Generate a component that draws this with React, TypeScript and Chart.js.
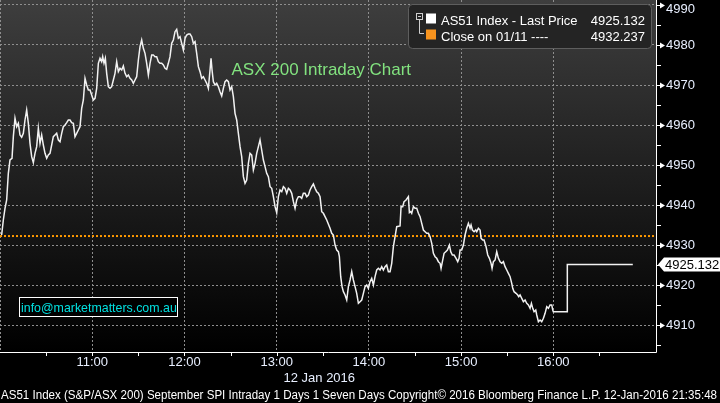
import React, { useEffect, useRef } from 'react';
import { Chart, registerables } from 'chart.js';

Chart.register(...registerables);

// minutes after 10:00 on 12 Jan 2016
const minutesFromOpen = [
  1.08, 2.17, 3.25, 4.34, 5.42, 6.51, 7.81, 8.68, 9.76, 10.85, 11.93, 13.01, 14.1, 15.18, 16.27, 17.35, 18.44, 19.52,
  20.61, 21.69, 22.77, 23.86, 24.94, 26.03, 27.11, 28.2, 29.28, 30.37, 31.45, 32.54, 33.62, 34.7, 35.79, 36.87, 37.96,
  39.04, 40.13, 41.21, 42.3, 43.38, 44.46, 45.55, 46.63, 47.72, 48.8, 49.89, 50.97, 52.06, 53.14, 54.23, 55.31, 56.39,
  57.48, 58.56, 59.65, 60.73, 61.82, 62.9, 63.99, 65.07, 66.15, 66.81, 67.67, 68.54, 69.41, 70.49, 71.58, 72.66, 73.75,
  74.83, 75.92, 77.0, 78.08, 79.17, 80.25, 81.34, 82.42, 83.51, 84.59, 85.68, 86.76, 87.84, 88.93, 90.01, 91.1, 92.18,
  93.27, 94.35, 95.44, 96.52, 97.61, 98.69, 99.77, 100.86, 101.94, 103.03, 104.11, 105.2, 106.28, 107.37, 108.45,
  109.53, 110.62, 111.7, 112.79, 113.87, 114.96, 116.04, 117.13, 118.21, 119.3, 120.38, 121.46, 122.55, 123.63, 124.72,
  125.8, 126.89, 127.97, 129.06, 130.14, 131.22, 132.31, 133.39, 134.48, 135.56, 136.65, 137.3, 137.95, 138.82, 139.9,
  140.99, 142.07, 143.15, 144.24, 145.32, 146.41, 147.49, 148.58, 149.66, 150.75, 151.83, 152.91, 154.0, 155.08, 156.17,
  157.25, 158.34, 159.42, 160.51, 161.59, 162.68, 163.76, 164.84, 165.93, 167.01, 168.1, 169.18, 170.27, 171.36, 172.44,
  173.52, 174.61, 175.69, 176.78, 177.86, 178.95, 180.03, 181.12, 182.2, 183.29, 184.37, 185.45, 186.54, 187.62, 188.71,
  189.79, 190.88, 191.96, 193.05, 194.13, 195.21, 196.3, 197.38, 198.47, 199.55, 200.64, 201.72, 202.81, 203.89, 204.97,
  206.06, 207.14, 208.23, 209.31, 210.4, 211.48, 212.57, 214.73, 215.81, 216.9, 217.98, 219.07, 220.15, 220.8, 221.67,
  222.54, 223.41, 224.49, 225.58, 226.66, 227.74, 228.83, 229.91, 231.0, 232.08, 233.17, 234.25, 235.34, 236.42, 237.5,
  238.59, 239.67, 240.76, 241.84, 242.93, 244.01, 245.1, 246.18, 247.27, 248.35, 249.43, 250.52, 251.6, 252.69, 253.77,
  254.86, 255.94, 257.03, 258.11, 260.28, 260.93, 262.01, 262.88, 264.18, 265.7, 266.35, 267.22, 267.87, 268.96, 270.04,
  271.13, 272.21, 273.3, 274.38, 275.46, 276.55, 277.63, 278.72, 279.8, 280.89, 281.97, 283.06, 284.14, 285.22, 286.31,
  286.96, 287.83, 288.91, 290.0, 291.08, 292.38, 293.25, 294.33, 295.42, 296.72, 297.8, 298.67, 299.32, 300.4, 301.49,
  302.57, 303.66, 304.74, 305.83, 306.48, 307.34, 308.43, 309.51, 310.17, 311.25, 312.34, 312.99, 314.07, 314.94, 316.24,
  317.33, 318.41, 319.5, 320.15, 321.01, 322.1, 323.18, 324.27, 325.35, 326.44, 327.52, 328.6, 329.69, 330.77, 331.86,
  332.94, 333.59, 334.46, 335.76, 336.84, 337.5, 338.36, 339.45, 340.53, 341.62, 342.7, 343.79, 344.87, 345.74, 346.61,
  347.47, 348.56, 349.21, 350.29, 351.38, 352.46, 353.55, 354.63, 355.72, 356.8, 357.89, 358.97, 359.62, 360.0, 369.1,
  369.1, 411.7,
];

const prices = [
  4932.5, 4936.25, 4939.17, 4941.25, 4947.92, 4951.25, 4951.67, 4957.08, 4961.67, 4959.58, 4960.42, 4957.5, 4956.92,
  4957.92, 4961.25, 4963.75, 4960.42, 4955.42, 4952.08, 4950.58, 4952.92, 4954.58, 4959.17, 4955.42, 4957.5, 4955.0,
  4952.92, 4951.67, 4952.5, 4952.92, 4955.0, 4957.08, 4957.5, 4957.92, 4956.25, 4955.83, 4957.92, 4959.58, 4960.0,
  4960.58, 4961.25, 4961.25, 4960.58, 4960.42, 4957.08, 4957.92, 4958.75, 4959.58, 4964.17, 4966.25, 4971.67, 4970.0,
  4968.75, 4968.75, 4967.5, 4966.25, 4966.67, 4969.17, 4975.42, 4976.67, 4975.83, 4977.08, 4975.42, 4976.67, 4972.92,
  4969.58, 4969.17, 4969.58, 4971.25, 4972.92, 4975.83, 4973.33, 4974.17, 4973.75, 4974.75, 4972.92, 4972.08, 4972.5,
  4971.67, 4971.25, 4970.42, 4971.25, 4972.08, 4976.25, 4979.58, 4981.25, 4979.17, 4977.92, 4975.42, 4972.5, 4975.42,
  4977.5, 4977.5, 4977.08, 4977.08, 4975.83, 4975.42, 4975.42, 4975.0, 4974.17, 4973.92, 4975.42, 4977.08, 4980.42,
  4981.25, 4983.33, 4983.92, 4981.67, 4982.08, 4980.42, 4978.75, 4981.67, 4982.5, 4982.75, 4982.75, 4982.08, 4980.42,
  4980.83, 4977.92, 4974.58, 4973.33, 4971.67, 4972.08, 4971.25, 4970.42, 4969.17, 4973.75, 4976.67, 4973.75, 4970.83,
  4970.0, 4970.42, 4969.58, 4968.33, 4967.25, 4969.17, 4970.83, 4971.25, 4970.83, 4968.75, 4969.58, 4967.08, 4962.92,
  4961.25, 4957.92, 4954.58, 4952.08, 4947.08, 4945.42, 4946.25, 4950.42, 4952.92, 4952.5, 4948.75, 4950.42, 4952.92,
  4954.58, 4956.25, 4953.75, 4951.25, 4949.58, 4947.92, 4947.08, 4944.58, 4944.17, 4942.08, 4939.58, 4938.08, 4942.08,
  4943.75, 4943.33, 4944.58, 4944.17, 4942.92, 4944.17, 4943.75, 4942.92, 4940.83, 4939.17, 4941.25, 4942.08, 4942.08,
  4941.67, 4942.92, 4942.92, 4942.08, 4942.5, 4943.75, 4944.58, 4945.25, 4944.17, 4943.33, 4942.92, 4942.08, 4938.33,
  4937.92, 4937.08, 4936.25, 4934.17, 4932.92, 4932.5, 4930.0, 4928.75, 4928.33, 4927.08, 4922.08, 4919.58, 4918.33,
  4917.5, 4916.25, 4919.58, 4921.25, 4923.33, 4921.25, 4919.58, 4917.92, 4915.42, 4915.83, 4916.25, 4917.92, 4919.58,
  4920.0, 4919.17, 4920.83, 4921.67, 4920.0, 4922.08, 4923.75, 4924.17, 4923.75, 4924.58, 4923.75, 4924.58, 4925.0,
  4923.33, 4923.33, 4925.42, 4929.58, 4932.08, 4934.58, 4934.75, 4939.58, 4939.58, 4940.83, 4941.25, 4942.08, 4938.08,
  4938.33, 4937.92, 4939.58, 4939.17, 4939.17, 4937.92, 4937.08, 4935.42, 4933.75, 4933.33, 4932.92, 4932.92, 4932.08,
  4930.42, 4927.92, 4927.08, 4926.67, 4925.83, 4925.42, 4924.17, 4925.83, 4927.92, 4928.33, 4928.75, 4930.0, 4928.33,
  4927.5, 4927.5, 4926.67, 4925.83, 4926.67, 4928.75, 4928.75, 4930.0, 4932.5, 4934.17, 4935.42, 4934.17, 4935.0,
  4933.75, 4933.33, 4933.75, 4933.33, 4934.17, 4933.75, 4931.67, 4931.25, 4931.25, 4929.58, 4927.5, 4926.67, 4925.42,
  4924.17, 4925.83, 4926.25, 4928.33, 4926.67, 4925.83, 4925.42, 4925.83, 4924.58, 4923.75, 4922.92, 4922.08, 4920.42,
  4919.17, 4918.33, 4917.92, 4917.5, 4917.08, 4917.5, 4916.67, 4915.83, 4916.25, 4915.42, 4915.0, 4914.17, 4915.42,
  4914.17, 4913.33, 4913.75, 4912.5, 4910.83, 4911.25, 4910.83, 4911.67, 4912.92, 4914.58, 4914.17, 4915.0, 4915.0,
  4913.75, 4913.33, 4913.33, 4925.132, 4925.132,
];

const prevCloseValue = 4932.237;
const lastPriceValue = 4925.132;
const hourTickLabels = ['10:00', '11:00', '12:00', '13:00', '14:00', '15:00', '16:00', '17:00'];

const titleText = 'ASX 200 Intraday Chart';
const legendRows = [
  { label: 'AS51 Index - Last Price', value: '4925.132', color: '#ffffff' },
  { label: 'Close on 01/11 ----', value: '4932.237', color: '#f7931e' },
];
const dateText = '12 Jan 2016';
const contactText = 'info@marketmatters.com.au';
const footerText =
  'AS51 Index (S&P/ASX 200) September SPI Intraday 1 Days 1 Seven Days Copyright\u00a9 2016 Bloomberg Finance L.P. 12-Jan-2016 21:35:48';

const FONT = "'Liberation Sans', Arial, sans-serif";
const LABEL_COLOR = '#e8efff';
const GRID_COLOR = '#8e8e8e';

const decorPlugin = {
  id: 'decor',
  beforeDraw(chart: any) {
    const { ctx, chartArea: a, width, height } = chart;
    ctx.save();
    ctx.fillStyle = '#000';
    ctx.fillRect(0, 0, width, height);
    const g = ctx.createLinearGradient(0, a.top, 0, a.bottom);
    g.addColorStop(0, '#3e3e3e');
    g.addColorStop(1, '#000000');
    ctx.fillStyle = g;
    ctx.fillRect(a.left, a.top, a.right - a.left, a.bottom - a.top);
    ctx.restore();
  },
  afterDraw(chart: any) {
    const { ctx, chartArea: a } = chart;
    const xs = chart.scales.x;
    const ys = chart.scales.y;
    ctx.save();

    // axis lines
    ctx.strokeStyle = '#ffffff';
    ctx.lineWidth = 1;
    ctx.beginPath();
    ctx.moveTo(a.left, a.bottom + 0.5);
    ctx.lineTo(a.right + 0.5, a.bottom + 0.5);
    ctx.moveTo(a.right + 0.5, a.top);
    ctx.lineTo(a.right + 0.5, a.bottom + 0.5);
    ctx.stroke();

    // x tick marks
    ctx.beginPath();
    xs.ticks.forEach((t: any) => {
      if (t.value <= 0 || t.value >= 420) return;
      const px = Math.round(xs.getPixelForValue(t.value)) + 0.5;
      ctx.moveTo(px, a.bottom);
      ctx.lineTo(px, a.bottom + 4);
    });
    ctx.stroke();

    // y ticks, arrows, labels
    ctx.font = `13px ${FONT}`;
    ctx.textBaseline = 'middle';
    ctx.textAlign = 'left';
    ys.ticks.forEach((t: any) => {
      const py = Math.round(ys.getPixelForValue(t.value)) + 0.5;
      if (Math.round(t.value) % 10 === 0) {
        ctx.fillStyle = '#ffffff';
        ctx.beginPath();
        ctx.moveTo(a.right, py - 0.5);
        ctx.lineTo(a.right + 4, py - 0.5);
        ctx.lineTo(a.right + 4, py - 3);
        ctx.lineTo(a.right + 9, py);
        ctx.lineTo(a.right + 4, py + 3);
        ctx.lineTo(a.right + 4, py + 0.5);
        ctx.lineTo(a.right, py + 0.5);
        ctx.closePath();
        ctx.fill();
        ctx.fillStyle = LABEL_COLOR;
        ctx.fillText(String(Math.round(t.value)), a.right + 10, Math.max(py, 9));
      } else {
        ctx.beginPath();
        ctx.moveTo(a.right, py);
        ctx.lineTo(a.right + 5, py);
        ctx.stroke();
      }
    });

    // last price box on the axis
    const ly = ys.getPixelForValue(lastPriceValue);
    ctx.fillStyle = '#ffffff';
    ctx.beginPath();
    ctx.moveTo(a.right + 2, ly);
    ctx.lineTo(a.right + 8, ly - 7);
    ctx.lineTo(720, ly - 7);
    ctx.lineTo(720, ly + 7);
    ctx.lineTo(a.right + 8, ly + 7);
    ctx.closePath();
    ctx.fill();
    ctx.fillStyle = '#000000';
    ctx.fillText(lastPriceValue.toFixed(3), a.right + 9, ly + 0.5);

    // legend box
    const lx = 408.5, lyTop = 4.5, lw = 243, lh = 44;
    ctx.beginPath();
    ctx.roundRect(lx, lyTop, lw, lh, 4);
    ctx.fillStyle = '#242424';
    ctx.fill();
    ctx.strokeStyle = '#5e5e5e';
    ctx.stroke();
    // tree icon
    ctx.strokeStyle = '#cfcfcf';
    ctx.strokeRect(416.5, 13.5, 6, 6);
    ctx.beginPath();
    ctx.moveTo(418, 16.5);
    ctx.lineTo(421, 16.5);
    ctx.moveTo(419.5, 19.5);
    ctx.lineTo(419.5, 33.5);
    ctx.lineTo(424, 33.5);
    ctx.stroke();
    ctx.textBaseline = 'alphabetic';
    legendRows.forEach((r, i) => {
      const top = 13.5 + i * 16;
      ctx.fillStyle = r.color;
      ctx.fillRect(426, top, 10, 10);
      ctx.fillStyle = '#ffffff';
      ctx.textAlign = 'left';
      ctx.fillText(r.label, 441, top + 11);
      ctx.textAlign = 'right';
      ctx.fillText(r.value, 645, top + 11);
    });

    // title
    ctx.textAlign = 'left';
    ctx.font = `17px ${FONT}`;
    ctx.fillStyle = '#82e27f';
    ctx.fillText(titleText, 231.5, 75);

    // contact box
    ctx.fillStyle = '#000000';
    ctx.fillRect(19.5, 297.5, 158, 19);
    ctx.strokeStyle = '#ffffff';
    ctx.strokeRect(19.5, 297.5, 158, 19);
    ctx.font = `12.4px ${FONT}`;
    ctx.fillStyle = '#00e0e0';
    ctx.fillText(contactText, 21, 311.5);

    // date under axis
    ctx.font = `13px ${FONT}`;
    ctx.fillStyle = LABEL_COLOR;
    ctx.textAlign = 'left';
    ctx.fillText(dateText, 283.5, 382);

    // footer
    ctx.font = `12px ${FONT}`;
    const w = ctx.measureText(footerText).width;
    ctx.save();
    ctx.translate(1, 399);
    ctx.scale(716 / w, 1);
    ctx.fillStyle = '#ffffff';
    ctx.fillText(footerText, 0, 0);
    ctx.restore();

    ctx.restore();
  },
};

export default function App() {
  const ref = useRef<HTMLCanvasElement>(null);
  useEffect(() => {
    if (!ref.current) return;
    const lineData = minutesFromOpen.map((m, i) => ({ x: m, y: prices[i] }));
    const xMax = 426.8;
    const closeData = [
      { x: 0, y: prevCloseValue },
      { x: xMax, y: prevCloseValue },
    ];
    const chart = new Chart(ref.current, {
      type: 'line',
      data: {
        datasets: [
          {
            data: lineData,
            borderColor: '#f2f2f2',
            borderWidth: 1.5,
            pointRadius: 0,
            tension: 0,
          },
          {
            data: closeData,
            borderColor: '#ff9900',
            borderWidth: 2,
            borderDash: [2, 2],
            pointRadius: 0,
          },
        ],
      },
      options: {
        animation: false,
        responsive: false,
        devicePixelRatio: 1,
        layout: { padding: 0 },
        plugins: { legend: { display: false }, tooltip: { enabled: false } },
        scales: {
          x: {
            type: 'linear',
            min: 0,
            max: xMax,
            afterFit: (s: any) => {
              s.height = 51;
              s.paddingLeft = 0;
              s.paddingRight = 0;
            },
            ticks: {
              stepSize: 30,
              includeBounds: false,
              autoSkip: false,
              maxRotation: 0,
              padding: 3,
              color: LABEL_COLOR,
              font: { family: FONT, size: 13 },
              callback: (v: any) => {
                const n = Number(v);
                if (n % 60 !== 0 || n <= 0 || n >= 420) return '';
                return hourTickLabels[n / 60];
              },
            },
            grid: {
              drawTicks: false,
              color: (c: any) =>
                c.tick && c.tick.value % 60 === 0 && c.tick.value < 420 ? GRID_COLOR : 'rgba(0,0,0,0)',
            },
            border: { display: false, dash: [2, 2] },
          },
          y: {
            position: 'right',
            min: 4903.25,
            max: 4991.25,
            afterFit: (s: any) => {
              s.width = 64;
              s.paddingTop = 0;
              s.paddingBottom = 0;
            },
            ticks: { display: false, stepSize: 5, includeBounds: false },
            grid: {
              drawTicks: false,
              color: (c: any) =>
                c.tick && Math.round(c.tick.value) % 10 === 0 ? GRID_COLOR : 'rgba(0,0,0,0)',
            },
            border: { display: false, dash: [2, 2] },
          },
        },
      },
      plugins: [decorPlugin],
    });
    return () => chart.destroy();
  }, []);
  return (
    <div style={{ position: 'fixed', left: 0, top: 0, width: 720, height: 403, background: '#000' }}>
      <canvas ref={ref} width={720} height={403} style={{ display: 'block' }} />
    </div>
  );
}
